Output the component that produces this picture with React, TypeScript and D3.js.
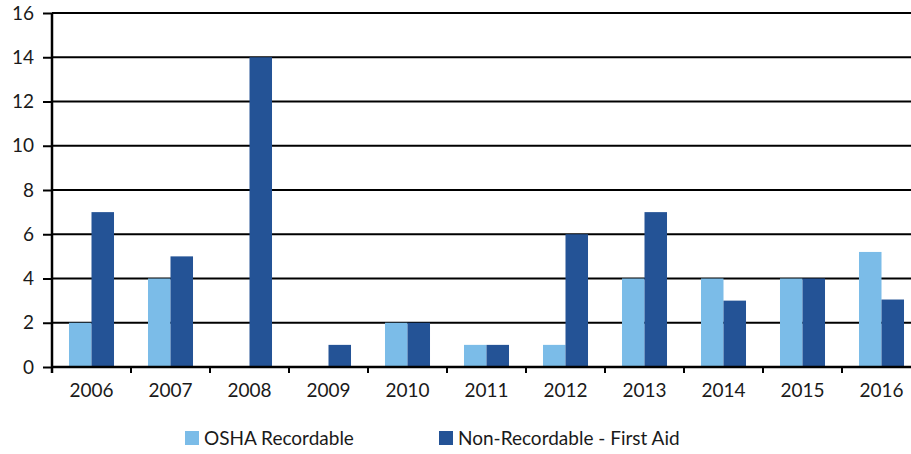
import React, { useRef, useEffect } from 'react';
import * as d3 from 'd3';

const years = ['2006', '2007', '2008', '2009', '2010', '2011', '2012', '2013', '2014', '2015', '2016'];
const oshaRecordable = [2, 4, 0, 0, 2, 1, 1, 4, 4, 4, 5.2];
const firstAid = [7, 5, 14, 1, 2, 1, 6, 7, 3, 4, 3.05];
const yTicks = [0, 2, 4, 6, 8, 10, 12, 14, 16];
const seriesNames = ['OSHA Recordable', 'Non-Recordable - First Aid'];
const seriesColors = ['#7bbce8', '#245396'];

const W = 911;
const H = 454;
const FONT = 'Lato, "Open Sans", sans-serif';

export default function App() {
    const svgRef = useRef<SVGSVGElement>(null);

    useEffect(() => {
        if (!svgRef.current) return;
        const svg = d3.select(svgRef.current);
        svg.selectAll('*').remove();

        const margin = { top: 13, left: 52, bottom: 87 };
        const bandW = 79;
        const chartWidth = bandW * years.length;
        const chartHeight = H - margin.top - margin.bottom;

        const g = svg.append('g').attr('transform', `translate(${margin.left},${margin.top})`);

        const x = d3.scaleBand().domain(years).range([0, chartWidth]).paddingInner(0).paddingOuter(0);
        // two bars of ~22.5px meeting at the band centre
        const x1 = d3.scaleBand().domain(seriesNames).range([0, x.bandwidth()]).paddingInner(0).paddingOuter(0.755);
        const y = d3.scaleLinear().domain([0, 16]).range([chartHeight, 0]);

        // grid lines
        g.append('g')
            .selectAll('line')
            .data(yTicks.slice(1))
            .enter().append('line')
            .attr('x1', 0)
            .attr('x2', W)
            .attr('y1', d => y(d))
            .attr('y2', d => y(d))
            .attr('stroke', '#000')
            .attr('stroke-width', 2);

        // bars
        const groups = g.selectAll('.grp')
            .data(years)
            .enter().append('g')
            .attr('transform', d => `translate(${x(d)},0)`);

        groups.selectAll('rect')
            .data((_d, i) => [
                { key: seriesNames[0], value: oshaRecordable[i] },
                { key: seriesNames[1], value: firstAid[i] },
            ])
            .enter().append('rect')
            .attr('x', d => x1(d.key)!)
            .attr('width', x1.bandwidth())
            .attr('y', d => y(d.value))
            .attr('height', d => chartHeight - y(d.value))
            .attr('fill', (_d, i) => seriesColors[i]);

        // y axis
        const yAxis = g.append('g')
            .call(d3.axisLeft(y).tickValues(yTicks).tickSize(9).tickPadding(9).tickFormat(d3.format('d')));
        yAxis.select('.domain').attr('stroke-width', 2.5).attr('d', `M0,${chartHeight + 6}V0`);
        yAxis.selectAll('.tick line').attr('stroke-width', 2);
        yAxis.selectAll('text').attr('font-size', 19).attr('font-family', FONT).attr('fill', '#1a1a1a');

        // x axis
        const xAxis = g.append('g')
            .attr('transform', `translate(0,${chartHeight})`)
            .call(d3.axisBottom(x).tickSize(0).tickPadding(17));
        xAxis.select('.domain').remove();
        xAxis.selectAll('text').attr('font-size', 19).attr('font-family', FONT).attr('fill', '#1a1a1a');

        g.append('line')
            .attr('x1', 0).attr('x2', W)
            .attr('y1', chartHeight).attr('y2', chartHeight)
            .attr('stroke', '#000').attr('stroke-width', 2.5);

        g.append('g')
            .selectAll('line')
            .data(years.map((_d, i) => i * bandW))
            .enter().append('line')
            .attr('x1', d => d).attr('x2', d => d)
            .attr('y1', chartHeight).attr('y2', chartHeight + 6)
            .attr('stroke', '#000').attr('stroke-width', 2);

        // legend
        const legendX = [185, 439];
        const legend = svg.append('g');
        seriesNames.forEach((name, i) => {
            legend.append('rect')
                .attr('x', legendX[i]).attr('y', 431)
                .attr('width', 14).attr('height', 14)
                .attr('fill', seriesColors[i]);
            legend.append('text')
                .attr('x', legendX[i] + 19).attr('y', 445)
                .attr('font-size', 19).attr('font-family', FONT).attr('fill', '#1a1a1a')
                .text(name);
        });
    }, []);

    return (
        <div style={{ position: 'absolute', left: 0, top: 0 }}>
            <svg ref={svgRef} width={W} height={H} style={{ display: 'block' }} />
        </div>
    );
}
